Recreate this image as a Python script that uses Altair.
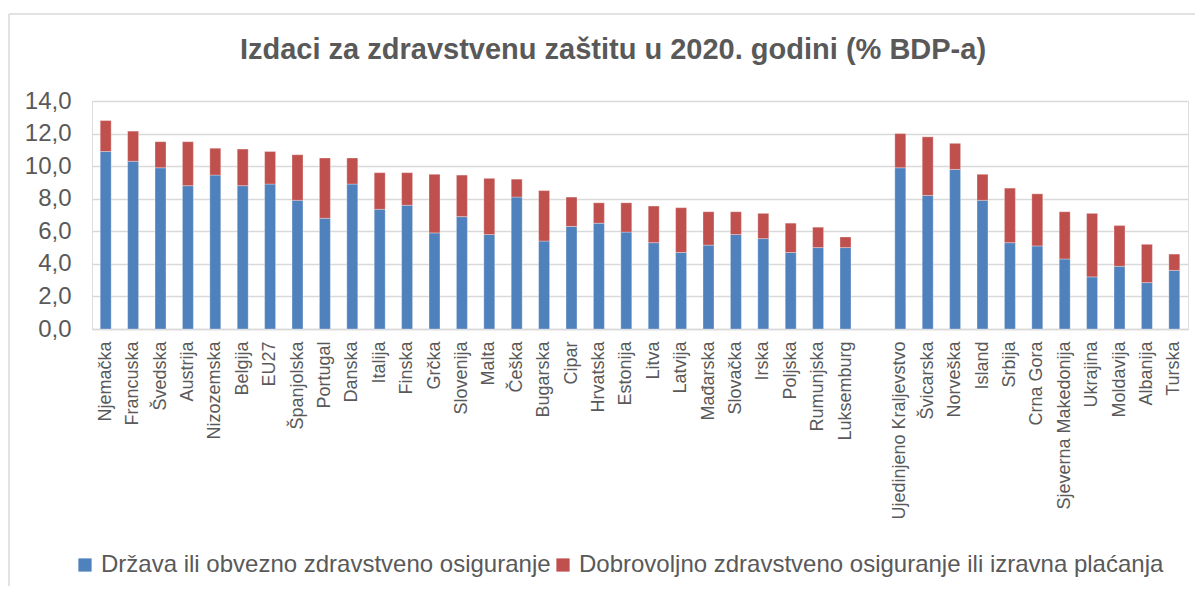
import altair as alt
import pandas as pd

left_countries = ["Njemačka", "Francuska", "Švedska", "Austrija", "Nizozemska", "Belgija", "EU27",
                  "Španjolska", "Portugal", "Danska", "Italija", "Finska", "Grčka", "Slovenija",
                  "Malta", "Češka", "Bugarska", "Cipar", "Hrvatska", "Estonija", "Litva", "Latvija",
                  "Mađarska", "Slovačka", "Irska", "Poljska", "Rumunjska", "Luksemburg"]
right_countries = ["Ujedinjeno Kraljevstvo", "Švicarska", "Norveška", "Island", "Srbija", "Crna Gora",
                   "Sjeverna Makedonija", "Ukrajina", "Moldavija", "Albanija", "Turska"]

left_state = [10.9, 10.3, 9.9, 8.8, 9.45, 8.8, 8.9, 7.9, 6.8, 8.9, 7.35, 7.6, 5.9, 6.9,
              5.8, 8.1, 5.4, 6.3, 6.5, 5.95, 5.3, 4.7, 5.15, 5.8, 5.55, 4.7, 5.0, 5.0]
left_private = [1.9, 1.85, 1.6, 2.7, 1.65, 2.25, 2.0, 2.8, 3.7, 1.6, 2.25, 2.0, 3.6, 2.55,
                 3.45, 1.1, 3.1, 1.8, 1.25, 1.8, 2.25, 2.75, 2.05, 1.4, 1.55, 1.8, 1.25, 0.65]
right_state = [9.9, 8.2, 9.8, 7.9, 5.3, 5.1, 4.3, 3.2, 3.85, 2.85, 3.6]
right_private = [2.1, 3.6, 1.6, 1.6, 3.35, 3.2, 2.9, 3.9, 2.5, 2.35, 1.0]

series = ["Država ili obvezno zdravstveno osiguranje",
          "Dobrovoljno zdravstveno osiguranje ili izravna plaćanja"]
colors = ["#4F81BD", "#C0504D"]
gap = " "
domain = left_countries + [gap] + right_countries

rows = []
for c, s, p in zip(left_countries + right_countries, left_state + right_state, left_private + right_private):
    rows.append({"country": c, "series": series[0], "value": s, "ord": 0})
    rows.append({"country": c, "series": series[1], "value": p, "ord": 1})
df = pd.DataFrame(rows)

FONT = "Liberation Sans"
TXT = "#595959"

bars = alt.Chart(df).mark_bar(stroke="white", strokeWidth=0.5, strokeOpacity=0.6).encode(
    x=alt.X("country:N", sort=domain,
            scale=alt.Scale(domain=domain, paddingInner=0.6, paddingOuter=0.3),
            axis=alt.Axis(title=None, labelAngle=270, labelAlign="right", labelBaseline="middle",
                          labelPadding=12, labelFontSize=18, labelFont=FONT, labelColor=TXT,
                          ticks=False, domainColor="#D9D9D9", domainWidth=1.5, labelOverlap=False)),
    y=alt.Y("value:Q", stack="zero",
            scale=alt.Scale(domain=[0, 14], nice=False),
            axis=alt.Axis(title=None, values=[0, 2, 4, 6, 8, 10, 12, 14],
                          labelExpr="replace(format(datum.value, '.1f'), '.', ',')",
                          labelFontSize=24, labelFont=FONT, labelColor=TXT, labelPadding=21,
                          ticks=False, domain=False, gridColor="#D9D9D9", gridWidth=1.5)),
    color=alt.Color("series:N", scale=alt.Scale(domain=series, range=colors),
                    legend=alt.Legend(title=None, orient="none", legendX=-19, legendY=452,
                                      direction="horizontal", symbolType="square", symbolSize=175,
                                      symbolStrokeWidth=0, labelFontSize=24, labelFont=FONT,
                                      labelColor=TXT, columnPadding=0, labelOffset=4,
                                      labelLimit=700)),
    order=alt.Order("ord:Q", sort="ascending"),
)

border_df = pd.DataFrame({"k": [0]})
left_border = alt.Chart(border_df).mark_rule(color="#D9D9D9", strokeWidth=1.5).encode(
    x=alt.value(-83), y=alt.value(-87), y2=alt.value(490))
top_border = alt.Chart(border_df).mark_rule(color="#D9D9D9", strokeWidth=1.5).encode(
    x=alt.value(-83), x2=alt.value(1110), y=alt.value(-87))

chart = alt.layer(bars, left_border, top_border).properties(
    width=1096, height=228,
    title=alt.TitleParams("Izdaci za zdravstvenu zaštitu u 2020. godini (% BDP-a)",
                          fontSize=29, font=FONT, fontWeight="bold", color=TXT,
                          anchor="middle", offset=-52, dx=-27),
    autosize=alt.AutoSizeParams(type="none"),
    padding={"left": 84, "top": 93, "right": 7, "bottom": 257},
).configure_view(stroke=None).configure(background="white")

chart.save("out.html", embed_options={"renderer": "svg", "actions": False})
